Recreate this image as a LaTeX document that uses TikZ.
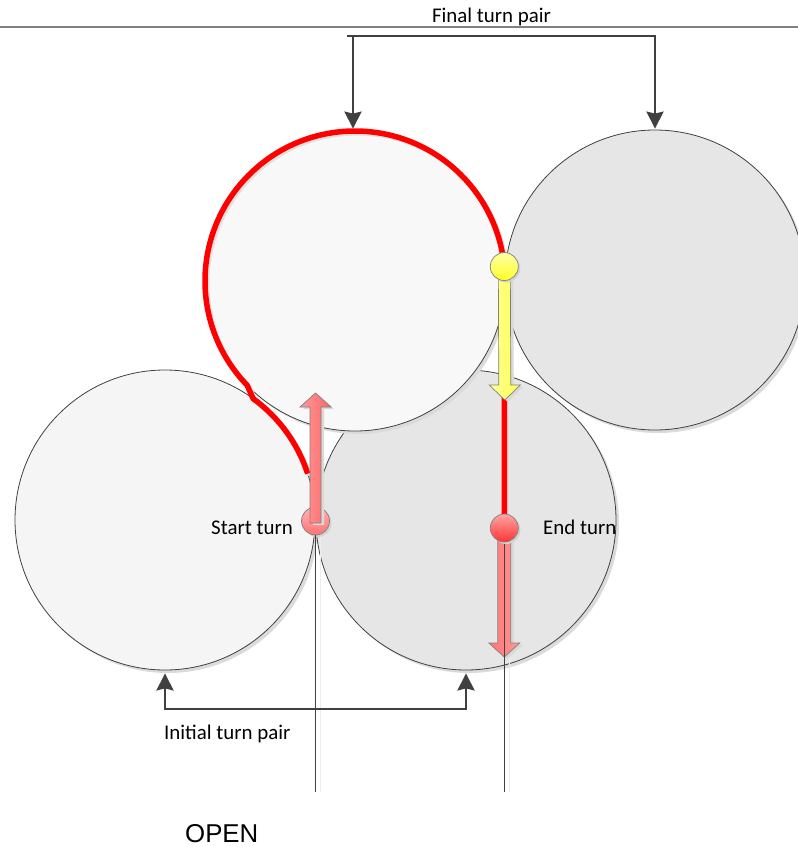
\documentclass[tikz,border=0pt]{standalone}
\usepackage{fontspec}
\setmainfont{Carlito}
\newfontfamily\arialf{Liberation Sans}
\usetikzlibrary{arrows.meta,calc,shadows}
\definecolor{dk}{HTML}{404040}
\definecolor{lgfill}{HTML}{F5F5F5}
\definecolor{tgfill}{HTML}{F8F8F8}
\definecolor{dgfill}{HTML}{E6E6E6}
\definecolor{ballgray}{HTML}{808080}
\tikzset{
  disc/.style={circle, draw=dk, line width=0.8pt, minimum size=300pt, inner sep=0pt,
    drop shadow={shadow xshift=3pt, shadow yshift=-3pt, fill=black!14, opacity=1}},
  redp/.style={draw=red, line width=5.5pt, line join=round,
    preaction={draw=black!12, line width=5pt, transform canvas={shift={(2pt,-2pt)}}}},
  ball/.style={circle, draw=ballgray, line width=0.7pt, minimum size=28pt, inner sep=0pt,
    drop shadow={shadow xshift=2pt, shadow yshift=-2pt, fill=black!18, opacity=1}},
  blk/.style={draw=ballgray, line width=0.7pt, line join=miter,
    drop shadow={shadow xshift=3pt, shadow yshift=-2pt, fill=black!15, opacity=1}},
  brk/.style={draw=dk, line width=2.5pt, line join=miter,
    shorten <=3pt, shorten >=3pt},
  thinl/.style={draw=dk, line width=0.8pt},
  faintl/.style={draw=black!7, line width=1pt},
  lbl/.style={inner sep=0pt, font=\fontsize{20.9}{25}\selectfont, text=black}
}
\begin{document}
\begin{tikzpicture}[x=1pt,y=1pt]
\useasboundingbox (0,0) rectangle (798,-847);
\fill[white] (0,0) rectangle (798,-847);

% top rule
\coordinate (rl) at (0,-27);
\coordinate (rr) at (798,-27);
\draw[draw=black!50, line width=1.3pt] (rl) -- (rr);

% circles
\node[disc, fill=lgfill] (L) at (165,-520) {};
\node[disc, fill=dgfill] (B) at (466,-520) {};
\node[disc, fill=dgfill] (R) at (655,-280) {};
\node[disc, fill=tgfill] (T) at (355,-281) {};

% red path
\coordinate (Yc) at (504.3,-266.5);
\coordinate (Ec) at (504.3,-528);
\draw[redp] ([shift={(18:150)}]L.center) arc[start angle=18, end angle=54, radius=150]
  -- ([shift={(224:150)}]T.center) arc[start angle=224, end angle=5.5, radius=150]
  -- (Ec);

% vertical thin lines
\coordinate (bot) at (0,-792);
\coordinate (Sc) at (315.5,-521);
\draw[faintl] ($(Sc)+(5,-14)$) -- ($(Sc |- bot)+(5,0)$);
\draw[faintl] ($(Ec)+(5,-14)$) -- ($(Ec |- bot)+(5,0)$);

% start turn ball and up arrow
\node[ball, top color=red!30, bottom color=red!55] (S) at (Sc) {};
\draw[thinl] (S.south) -- (S |- bot);
\coordinate (sa) at (315.5,-393);
\path[blk, left color=red!40, right color=red!60]
  ($(S.center)+(-5.5,-2)$) -- ($(sa)+(-5.5,-14)$) -- ($(sa)+(-15.5,-14)$) -- (sa)
  -- ($(sa)+(15.5,-14)$) -- ($(sa)+(5.5,-14)$) -- ($(S.center)+(5.5,-2)$) -- cycle;

% yellow ball and down arrow
\coordinate (ya) at (504.8,-400);
\path[blk, left color=yellow!40, right color=yellow!70]
  ($(Yc)+(-6,0)$) -- ($(ya)+(-6,15)$) -- ($(ya)+(-15.5,15)$) -- (ya)
  -- ($(ya)+(15.5,15)$) -- ($(ya)+(6,15)$) -- ($(Yc)+(6,0)$) -- cycle;
\node[ball, top color=yellow!35, bottom color=yellow!85] (Y) at (Yc) {};

% end turn arrow, line and ball
\coordinate (ea) at (504.3,-657);
\path[blk, left color=red!55, right color=red!40]
  ($(Ec)+(-6.5,0)$) -- ($(ea)+(-6.5,14)$) -- ($(ea)+(-15.5,14)$) -- (ea)
  -- ($(ea)+(15.5,14)$) -- ($(ea)+(6.5,14)$) -- ($(Ec)+(6.5,0)$) -- cycle;
\draw[thinl] (Ec) -- (Ec |- bot);
\node[ball, top color=red!35, bottom color=red!80] (E) at (Ec) {};

% final turn pair bracket
\coordinate (fl) at (347,-36);
\coordinate (fa) at (353,-36);
\coordinate (fr) at (655,-36);
\draw[draw=dk, line width=2.5pt] (fl) -- (fa);
\draw[brk, {Stealth[length=17pt,width=17pt,inset=2pt]}-{Stealth[length=17pt,width=17pt,inset=2pt]}, shorten <=2pt, shorten >=1pt]
  (fa |- T.north) -- (fa) -- (fr) -- (R.north);

% initial turn pair bracket
\coordinate (il) at (165,-709);
\coordinate (ir) at (466,-709);
\draw[brk, {Stealth[length=17pt,width=17pt,inset=2pt]}-{Stealth[length=17pt,width=17pt,inset=2pt]}]
  (L.south) -- (il) -- (ir) -- (B.south);

% labels
\node[lbl, anchor=base] (ft) at (491.5,-22) {Final turn pair};
\node[lbl, anchor=base east] (st) at (293,-534) {Start turn};
\node[lbl, anchor=base west] (et) at (543,-534) {End turn};
\node[lbl, anchor=base west] (it) at (164,-739) {Initial turn pair};
\node[inner sep=0pt, anchor=base west, font=\arialf\fontsize{25.8}{30}\selectfont] (op) at (185,-842) {OPEN};
\end{tikzpicture}
\end{document}
